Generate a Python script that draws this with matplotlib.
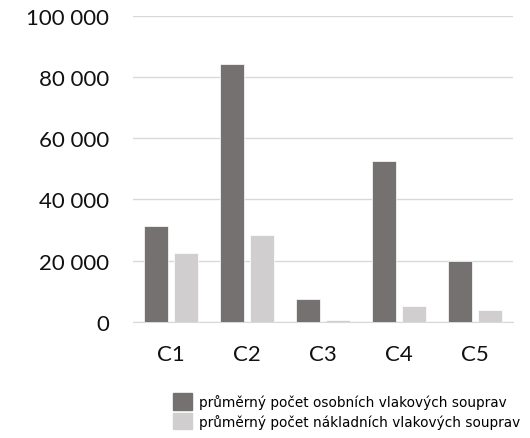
import matplotlib
matplotlib.use("Agg")
import matplotlib.pyplot as plt
from matplotlib.patches import Patch
from matplotlib.ticker import FuncFormatter
import numpy as np

categories = ["C1", "C2", "C3", "C4", "C5"]
osobni = [31400, 84300, 7300, 52700, 20000]
nakladni = [22600, 28300, 600, 5100, 3800]
labels = ["průměrný počet osobních vlakových souprav",
          "průměrný počet nákladních vlakových souprav"]
dark = "#767171"
light = "#d0cece"

fig = plt.figure(figsize=(5.3, 4.39), dpi=100)
ax = fig.add_axes([0.251, 0.265, 0.717, 0.696])

x = np.arange(len(categories))
w = 0.31
off = 0.195
ax.bar(x - off, osobni, w, color=dark, edgecolor="white", linewidth=0.5, zorder=3)
ax.bar(x + off, nakladni, w, color=light, edgecolor="white", linewidth=0.5, zorder=3)

ax.set_xlim(-0.5, len(categories) - 0.5)
ax.set_ylim(0, 100000)
ax.set_yticks(range(0, 100001, 20000))
ax.yaxis.set_major_formatter(FuncFormatter(lambda v, p: f"{int(v):,}".replace(",", " ")))
ax.set_xticks(x)
ax.set_xticklabels(categories)

ax.grid(axis="y", color="#d9d9d9", linewidth=1, zorder=0)
for s in ["top", "right", "left"]:
    ax.spines[s].set_visible(False)
ax.spines["bottom"].set_color("#d9d9d9")
ax.tick_params(length=0, labelsize=16, colors="#111111")
ax.tick_params(axis="y", pad=17)
ax.tick_params(axis="x", pad=16)
for t in ax.get_xticklabels() + ax.get_yticklabels():
    t.set_fontfamily("Lato")

handles = [Patch(color=dark), Patch(color=light)]
fig.legend(handles, labels, loc="upper left", bbox_to_anchor=(0.313, 0.117),
           frameon=False, borderpad=0, fontsize=9.8, handlelength=1.45,
           handleheight=1.45, handletextpad=0.45, labelspacing=0.25)

fig.savefig("out.png", dpi=100)
